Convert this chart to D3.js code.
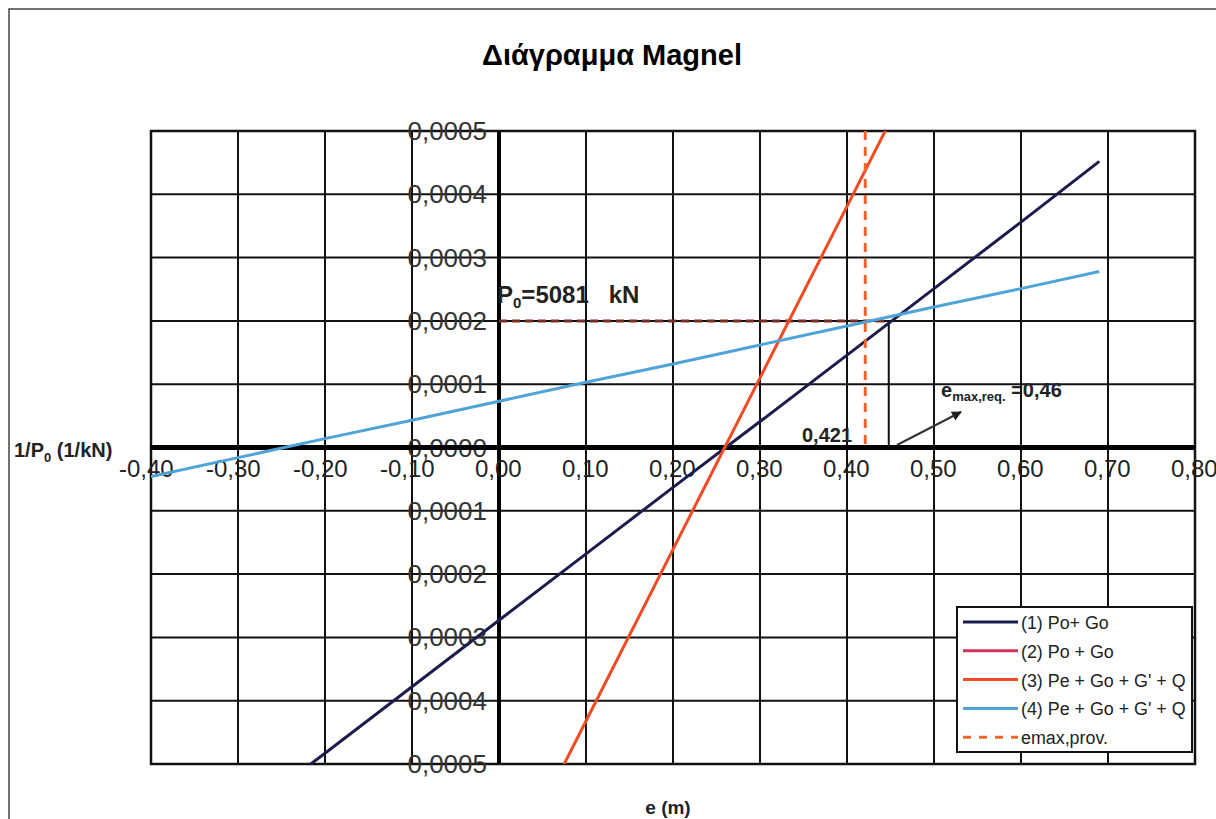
<!DOCTYPE html>
<html>
<head>
<meta charset="utf-8">
<script src="https://cdn.jsdelivr.net/npm/d3@7"></script>
<style>
  body { margin: 0; background: #fff; }
  svg { font-family: 'Liberation Sans', Arial, sans-serif; }
  text { white-space: pre; }
</style>
</head>
<body>
<svg width="1216" height="819"></svg>
<script>
// e values (m) for the series
const eValues = [-0.40, -0.30, -0.20, -0.10, 0.00, 0.10, 0.20, 0.30, 0.40, 0.50, 0.60, 0.69]
// 1/P0 values (1/kN)
const series1 = [-0.000692, -0.000587, -0.000483, -0.000378, -0.000273, -0.000168, -0.000063, 0.000041, 0.000146, 0.000251, 0.000356, 0.000452]
const series2 = []
const series3 = [null, null, null, null, -0.000703, -0.000432, -0.000161, 0.000110, 0.000381, 0.000652, null, null]
const series4 = [-0.000046, -0.000016, 0.000014, 0.000043, 0.000073, 0.000103, 0.000132, 0.000162, 0.000192, 0.000222, 0.000251, 0.000278]

const xTicks = [-0.4, -0.3, -0.2, -0.1, 0, 0.1, 0.2, 0.3, 0.4, 0.5, 0.6, 0.7, 0.8]
const yTicks = [0.0005, 0.0004, 0.0003, 0.0002, 0.0001, 0, -0.0001, -0.0002, -0.0003, -0.0004, -0.0005]

const legendNames = ['(1) Po+ Go', '(2) Po + Go', "(3) Pe + Go + G' + Q", "(4) Pe + Go + G' + Q", 'emax,prov.']
const colors = ['#1c1c4c', '#d4305c', '#f24a22', '#4fa3d8', '#f0662a']

const eMaxProv = 0.421
const eMaxReq = 0.448
const p0Inv = 0.0002

const svg = d3.select('svg')
const pl = 151, pr = 1195, pt = 131, pb = 764

const x = d3.scaleLinear().domain([-0.4, 0.8]).range([pl, pr])
const y = d3.scaleLinear().domain([-0.0005, 0.0005]).range([pb, pt])

// outer frame (cropped at right/bottom)
svg.append('path')
  .attr('d', `M9,819 V9 H1216`)
  .attr('fill', 'none').attr('stroke', '#444').attr('stroke-width', 1.5)

svg.append('text')
  .attr('x', 612).attr('y', 65)
  .attr('text-anchor', 'middle')
  .style('font-size', '29px').style('font-weight', 'bold')
  .text('Διάγραμμα Magnel')

svg.append('clipPath').attr('id', 'plot')
  .append('rect').attr('x', pl).attr('y', pt).attr('width', pr - pl).attr('height', pb - pt)

// grid
const grid = svg.append('g')
grid.selectAll('.vg').data(xTicks).enter().append('line')
  .attr('x1', (d) => x(d)).attr('x2', (d) => x(d))
  .attr('y1', pt).attr('y2', pb)
  .attr('stroke', '#111').attr('stroke-width', 2)
grid.selectAll('.hg').data(yTicks).enter().append('line')
  .attr('x1', pl).attr('x2', pr)
  .attr('y1', (d) => y(d)).attr('y2', (d) => y(d))
  .attr('stroke', '#111').attr('stroke-width', 2)
svg.append('rect')
  .attr('x', pl).attr('y', pt).attr('width', pr - pl).attr('height', pb - pt)
  .attr('fill', 'none').attr('stroke', '#111').attr('stroke-width', 2.5)

// y tick labels
svg.append('g').selectAll('text').data(yTicks).enter().append('text')
  .attr('x', x(0) - 12).attr('y', (d) => y(d) + 9)
  .attr('text-anchor', 'end')
  .style('font-size', '26px').style('fill', '#333')
  .text((d) => Math.abs(d).toFixed(4).replace('.', ','))

// axes at zero
svg.append('line')
  .attr('x1', pl).attr('x2', pr).attr('y1', y(0)).attr('y2', y(0))
  .attr('stroke', '#000').attr('stroke-width', 5)
svg.append('line')
  .attr('x1', x(0)).attr('x2', x(0)).attr('y1', pt).attr('y2', pb)
  .attr('stroke', '#000').attr('stroke-width', 4)

// x tick labels, the comma sits on the grid line
svg.append('g').selectAll('text').data(xTicks).enter().append('text')
  .attr('x', (d) => x(d) - (d < 0 ? 32 : 24)).attr('y', y(0) + 29)
  .style('font-size', '24px').style('fill', '#222')
  .text((d) => d.toFixed(2).replace('.', ','))

// P0 reference line
svg.append('line')
  .attr('x1', x(0)).attr('x2', x(eMaxReq)).attr('y1', y(p0Inv)).attr('y2', y(p0Inv))
  .attr('stroke', '#7a2c22').attr('stroke-width', 3).attr('stroke-dasharray', '8,5')
svg.append('line')
  .attr('x1', x(eMaxReq)).attr('x2', x(eMaxReq)).attr('y1', y(p0Inv)).attr('y2', y(0))
  .attr('stroke', '#111').attr('stroke-width', 2)

// series
const plot = svg.append('g').attr('clip-path', 'url(#plot)')
const line = d3.line()
  .defined((d) => d[1] != null)
  .x((d) => x(d[0])).y((d) => y(d[1]))
const allSeries = [series1, series2, series3, series4]
allSeries.forEach((s, i) => {
  if (!s.length) return
  plot.append('path')
    .datum(eValues.map((e, j) => [e, s[j]]))
    .attr('d', line)
    .attr('fill', 'none')
    .attr('stroke', colors[i])
    .attr('stroke-width', 3)
})

// emax,prov. vertical dashed line
plot.append('line')
  .attr('x1', x(eMaxProv)).attr('x2', x(eMaxProv)).attr('y1', pt).attr('y2', y(0))
  .attr('stroke', colors[4]).attr('stroke-width', 3).attr('stroke-dasharray', '9,7')

// annotations
const p0 = svg.append('text').attr('x', 497).attr('y', 303)
  .style('font-size', '24px').style('font-weight', 'bold').style('fill', '#222')
p0.append('tspan').text('P')
p0.append('tspan').attr('dy', 5).style('font-size', '15px').text('0')
p0.append('tspan').attr('dy', -5).text('=5081   kN')

svg.append('text').attr('x', 802).attr('y', 442)
  .style('font-size', '20px').style('font-weight', 'bold').style('fill', '#222')
  .text('0,421')

const em = svg.append('text').attr('x', 941).attr('y', 397)
  .style('font-size', '20px').style('font-weight', 'bold').style('fill', '#222')
em.append('tspan').text('e')
em.append('tspan').attr('dy', 4).style('font-size', '13px').text('max,req.')
em.append('tspan').attr('dy', -4).text(' =0,46')

svg.append('defs').append('marker')
  .attr('id', 'arr').attr('viewBox', '0 0 10 10').attr('refX', 9).attr('refY', 5)
  .attr('markerWidth', 5).attr('markerHeight', 5).attr('orient', 'auto')
  .append('path').attr('d', 'M0,0 L10,5 L0,10 Z').attr('fill', '#222')
svg.append('line')
  .attr('x1', 897).attr('y1', 445).attr('x2', 961).attr('y2', 412)
  .attr('stroke', '#333').attr('stroke-width', 2).attr('marker-end', 'url(#arr)')

// axis titles
const yt = svg.append('text').attr('x', 14).attr('y', 457)
  .style('font-size', '20px').style('font-weight', 'bold').style('fill', '#222')
yt.append('tspan').text('1/P')
yt.append('tspan').attr('dy', 5).style('font-size', '13px').text('0')
yt.append('tspan').attr('dy', -5).text(' (1/kN)')

svg.append('text').attr('x', 668).attr('y', 814)
  .attr('text-anchor', 'middle')
  .style('font-size', '19px').style('font-weight', 'bold').style('fill', '#222')
  .text('e (m)')

// legend
const lg = svg.append('g')
lg.append('rect').attr('x', 957).attr('y', 607).attr('width', 235).attr('height', 145)
  .attr('fill', '#fff').attr('stroke', '#111').attr('stroke-width', 2)
const item = lg.selectAll('.item').data(legendNames).enter().append('g')
  .attr('transform', (d, i) => `translate(0,${622 + i * 28.8})`)
item.append('line')
  .attr('x1', 963).attr('x2', 1018)
  .attr('stroke', (d, i) => colors[i]).attr('stroke-width', 3)
  .attr('stroke-dasharray', (d, i) => (i === 4 ? '8,8' : null))
item.append('text')
  .attr('transform', 'translate(1021,7) scale(0.94,1)')
  .style('font-size', '19px').style('fill', '#222')
  .text((d) => d)
</script>
</body>
</html>
